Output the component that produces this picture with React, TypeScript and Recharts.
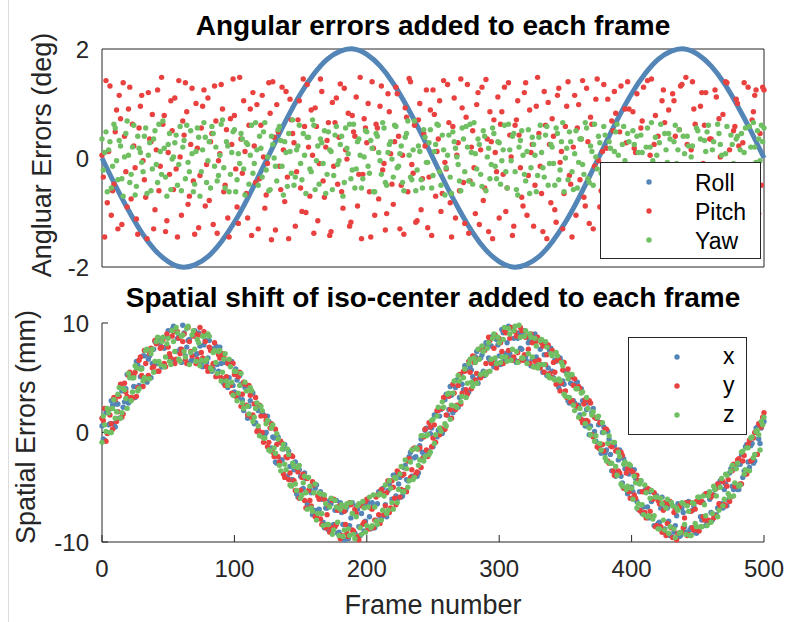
import { ComposedChart, Line, Scatter, XAxis, YAxis, ReferenceArea } from 'recharts'

const FONT = '"Liberation Sans", Arial, Helvetica, sans-serif'
const BLUE = '#5385b6'
const RED = '#e8413f'
const GREEN = '#70bf63'
const AXIS = '#262626'

// frames between samples
const ROLL_STEP = 10
const DOT_STEP = 1

const frameTicks = [0, 100, 200, 300, 400, 500]
const angTicks = [-2, 0, 2]
const spatialTicks = [-10, 0, 10]

// top panel (deg)
const roll = [
  0, -0.5, -0.96, -1.37, -1.69, -1.9, -2, -1.96, -1.81, -1.54,
  -1.18, -0.74, -0.25, 0.25, 0.74, 1.18, 1.54, 1.81, 1.96, 2,
  1.9, 1.69, 1.37, 0.96, 0.5, 0, -0.5, -0.96, -1.37, -1.69,
  -1.9, -2, -1.96, -1.81, -1.54, -1.18, -0.74, -0.25, 0.25, 0.74,
  1.18, 1.54, 1.81, 1.96, 2, 1.9, 1.69, 1.37, 0.96, 0.5, 0,
]

const pitch = [
  0.05, -0.35, -1.45, 1.42, -0.82, 0.12, 1.32, -1.05, -0.6, -0.48, 0.48, 0.88, -1.3, 1.15, 0.72, -1.22, 1.38, 0.4, -0.25, -0.9,
  0.9, 1.3, -0.75, 0.62, 0.22, -0.18, -1.12, -1.4, 0.55, 0.95, 1.15, -0.05, -0.4, -0.72, -1.48, 1.2, 0.35, 0.3, 0.8, -1.3,
  -0.95, 0.15, 1.25, -0.6, -0.15, 1.48, 0.62, 0.78, -1.35, -1.15, 0.1, -0.3, 1.05, 0.5, -0.58, 1.1, -0.2, -1.45, 1.42, 0.02,
  -1.05, 0.68, 0.42, 1.38, 0.85, -0.85, -0.7, 0.25, 1.28, -0.42, -1.4, 1.0, 0.18, -1.28, -0.32, 0.55, 0.95, 1.25, -0.88, -0.12,
  1.1, -0.78, 0.3, 0.45, -1.22, 1.32, 0.68, -1.38, -0.05, 0.08, 1.35, 0.9, -0.62, -0.5, 0.52, -1.1, -1.45, 0.72, 0.25, 1.45,
  0.78, -0.2, -0.9, -1.2, 1.48, 0.35, -0.28, 1.05, 0.12, -0.65, -1.1, 0.6, 0.9, -1.42, 1.2, 0.22, -0.45, 0.98, -1.3, -0.38,
  0.6, 1.15, 0.02, -0.92, -0.68, -0.1, 1.38, 0.82, -1.5, 1.4, 0.38, -1.32, 0.98, 0.48, -0.15, -0.58, 1.3, 0.15, -0.8, 1.22,
  -0.35, -1.48, 1.08, 0.7, 0.45, 0.28, -1.25, -0.25, 0.7, 1.05, -0.55, -0.98, 1.45, 0.58, -1.0, 1.35, 0.2, -0.7, 0.88, 0.05,
  -1.38, 0.92, 0.58, -1.15, -0.1, 1.45, 1.22, -0.42, -0.72, 0.2, 0.32, 0.65, -1.42, -1.35, 1.02, -0.15, 0.65, 1.1, -0.48, 0.38,
  1.36, -0.62, -0.92, 1.28, 0.15, -0.02, 0.82, -1.25, -1.18, 0.78, 0.48, 0.4, 1.12, -0.88, -0.3, 1.48, -1.48, -0.3, 0.72, 0.55,
  0.28, 1.0, -0.62, -1.45, 1.4, 0.18, -1.05, 0.62, 0.55, -0.75, 0.95, 1.32, -0.22, -0.1, -1.32, -1.02, 1.18, 0.85, 0.08, -0.48,
  -0.85, 0.3, 1.3, 1.18, 0.4, -1.3, -0.5, 0.05, -1.4, 0.92, 0.75, -0.62, 1.46, 1.4, -0.12, -0.28, 0.6, -1.18, -1.15, 0.7,
  1.0, -0.95, -0.38, 0.45, 0.22, 1.25, -1.28, -0.35, 0.88, -1.42, 1.25, 0.8, -0.7, 0.12, 0.35, 1.05, -0.98, -0.65, 1.42, -0.08,
  -0.2, 1.35, 0.65, -0.82, -1.45, 0.58, 1.1, -1.1, 0.05, 0.28, -0.6, 1.45, 0.92, -0.45, -1.2, 0.75, 1.35, -1.38, -0.42, 0.2,
  0.5, -0.18, -1.02, 0.98, 1.2, -1.22, 0.15, 1.3, -0.78, -0.55, 1.44, 0.35, -1.35, 0.85, 0.3, -1.48, 0.7, 0.1, -0.25, 1.12,
  -1.1, 0.62, 0.85, -0.3, 1.3, -0.98, -0.55, 1.38, 0.42, 0.02, -1.42, -1.25, 0.6, 0.7, 1.05, 0.42, -0.18, -0.72, -0.88, 1.2,
  1.38, -1.05, -0.32, 0.88, 0.1, 0.25, -1.25, -0.5, 0.95, 1.48, 0.45, -0.15, -0.65, -1.35, 1.22, 0.6, -1.48, 1.02, 0.25, -0.82,
  0.72, 0.4, -0.95, -1.18, 1.15, 1.28, -0.08, 0.12, -1.3, -0.65, 0.58, 0.95, 1.4, -0.32, -0.48, -1.45, 0.2, 1.15, -1.05, 0.55,
  0.98, -0.4, 0.35, 1.42, -0.72, -0.88, 1.28, 0.3, -1.2, 0.75, 0.62, -1.3, -0.15, 1.08, 1.45, -0.05, -0.9, -0.6, 0.12, 1.35,
  -0.4, 0.18, 1.08, -1.02, -1.38, 0.68, 0.5, 1.22, 0.82, -1.45, -0.6, 0.48, 1.32, -0.25, -1.12, 0.9, 0.28, 1.4, 0.9, -0.78,
  -1.45, 0.85, 0.18, 0.1, 1.18, -1.2, -0.35, 0.55, 0.68, 1.3, -0.98, -0.45, 1.42, -0.92, 0.05, 1.45, -1.25, 0.25, 0.78, -1.38,
  0.4, -0.12, -0.7, 1.05, 1.25, 0.65, -1.4, -1.28, 0.88, -0.38, -0.2, 1.18, 1.05, 0.4, -0.85, -0.7, 0.52, 1.32, 1.35, -1.0,
  -1.08, 1.48, 0.25, -0.55, -0.5, 0.15, 1.4, 0.9, 0.62, -1.4, -1.3, -0.22, 0.95, 1.2, -0.1, 0.6, 1.2, -0.95, -0.78, 0.35,
  0.35, -0.68, -1.45, 1.25, 1.12, -1.12, 0.72, 0.02, -0.3, 0.8, -0.95, 1.4, 1.38, -0.48, 0.15, -1.3, -1.18, 0.5, 0.58, 1.08,
  1.0, 0.22, -0.42, -0.88, 0.28, 1.38, -1.35, -0.15, 1.3, -1.22, -0.62, 0.7, 0.85, 1.15, 1.25, -0.4, -1.02, 0.45, -0.5, 1.3,
  1.25,
]

const yaw = [
  0.35, -0.22, 0.1, 0.48, -0.62, 0.15, 0.3, -0.55, -0.15, 0.62, 0.55, -0.05, -0.4, 0.32, 0.22, -0.38, -0.7, 0.02, 0.45, 0.68,
  0.05, -0.45, -0.3, 0.2, 0.6, -0.68, -0.52, 0.4, 0.18, 0.1, -0.08, -0.25, 0.4, 0.55, -0.65, 0.05, 0.28, -0.6, -0.2, 0.35,
  0.5, -0.12, -0.45, 0.62, 0.12, -0.3, 0.68, 0.18, -0.35, -0.7, 0.25, 0.45, -0.58, -0.02, 0.02, 0.28, 0.42, -0.5, -0.12, 0.58,
  -0.6, 0.2, 0.32, -0.38, 0.6, -0.08, -0.25, 0.5, 0.08, -0.62, -0.48, 0.12, 0.55, 0.38, -0.7, -0.25, 0.15, 0.65, 0.38, -0.45,
  -0.05, 0.3, -0.55, 0.58, 0.45, -0.15, 0.2, -0.42, -0.32, 0.05, 0.62, 0.7, -0.18, -0.55, 0.3, 0.22, -0.62, -0.3, 0.1, 0.48,
  0.52, -0.62, -0.4, 0.08, -0.1, 0.45, 0.35, -0.2, -0.68, 0.28, 0.25, -0.48, 0.05, 0.6, -0.28, -0.1, 0.65, 0.15, -0.5, 0.4,
  0.18, -0.35, 0.48, 0.65, -0.22, 0.02, -0.6, -0.58, 0.4, 0.25, 0.0, -0.15, -0.42, 0.52, 0.58, 0.32, -0.15, -0.68, 0.3, 0.1,
  -0.52, 0.45, 0.12, -0.28, 0.7, -0.5, -0.35, 0.15, 0.22, 0.6, -0.1, -0.4, 0.45, 0.05, -0.65, 0.38, 0.38, -0.2, -0.25, 0.7,
  0.6, -0.58, -0.05, 0.22, -0.48, 0.35, 0.28, -0.1, 0.5, -0.65, -0.3, 0.48, 0.15, 0.12, -0.58, -0.32, 0.42, 0.58, -0.12, -0.05,
  0.25, 0.4, -0.7, -0.45, 0.55, 0.18, 0.08, 0.62, -0.38, -0.22, 0.62, -0.55, -0.2, 0.3, 0.35, 0.05, -0.55, -0.38, 0.02, 0.5,
  0.48, -0.15, -0.28, 0.32, 0.18, -0.62, -0.62, 0.45, 0.4, 0.1, -0.05, -0.3, 0.65, 0.55, -0.45, -0.5, 0.1, 0.25, 0.3, -0.02,
  -0.35, 0.6, 0.58, -0.18, -0.15, 0.08, 0.22, -0.45, -0.6, 0.38, 0.45, 0.68, 0.05, -0.35, -0.4, 0.15, 0.68, -0.6, -0.22, 0.22,
  0.12, -0.4, -0.55, 0.52, 0.38, -0.08, -0.08, 0.28, 0.52, -0.55, -0.32, 0.12, 0.25, 0.62, 0.6, -0.25, -0.5, 0.42, 0.15, -0.68,
  -0.18, 0.05, 0.42, -0.35, -0.65, 0.48, 0.3, 0.18, 0.02, -0.12, -0.42, -0.6, 0.55, 0.35, -0.25, 0.58, 0.2, -0.42, 0.62, 0.1,
  -0.48, 0.65, 0.08, -0.2, 0.35, 0.25, -0.3, -0.52, 0.5, 0.4, -0.6, 0.02, 0.18, -0.38, -0.12, 0.55, 0.45, -0.15, -0.38, 0.3,
  0.28, -0.48, -0.05, 0.15, 0.6, -0.25, -0.55, 0.62, 0.15, -0.05, 0.4, 0.45, -0.25, -0.58, -0.68, 0.2, 0.32, 0.5, 0.05, -0.3,
  -0.42, 0.12, 0.52, -0.65, -0.18, 0.38, 0.25, 0.05, -0.62, -0.32, 0.38, 0.6, 0.1, -0.18, -0.35, 0.42, 0.58, -0.5, -0.1, 0.25,
  0.2, -0.1, -0.5, 0.55, 0.45, -0.4, -0.22, 0.3, 0.65, -0.62, 0.0, 0.18, -0.4, 0.48, 0.3, -0.25, -0.58, 0.08, 0.5, -0.55,
  -0.08, 0.35, 0.35, -0.12, -0.3, 0.65, 0.55, -0.38, -0.45, 0.22, 0.12, -0.5, 0.62, 0.02, -0.2, 0.4, 0.28, -0.28, -0.65, 0.58,
  0.42, -0.2, -0.12, 0.3, 0.18, -0.58, -0.52, 0.12, 0.48, 0.62, 0.05, -0.42, -0.35, 0.25, 0.58, -0.05, -0.15, 0.45, 0.3, -0.65,
  -0.6, 0.5, 0.25, -0.3, 0.4, 0.1, -0.28, 0.42, 0.1, -0.52, -0.48, 0.2, 0.55, -0.15, 0.2, 0.65, -0.05, -0.4, 0.38, 0.05,
  -0.38, 0.28, 0.62, -0.6, -0.22, 0.45, 0.15, -0.08, 0.45, 0.35, -0.55, -0.45, 0.3, 0.6, -0.1, 0.15, 0.52, -0.25, -0.3, 0.4,
  0.08, -0.55, 0.4, 0.22, -0.6, 0.02, 0.22, -0.35, -0.18, 0.55, 0.5, -0.12, 0.35, -0.6, -0.45, 0.32, 0.12, 0.48, 0.6, -0.2,
  -0.25, 0.15, 0.3, -0.48, -0.52, 0.62, 0.45, 0.25, 0.05, -0.3, -0.35, 0.08, 0.58, -0.52, -0.15, 0.42, 0.25, -0.1, -0.62, 0.35,
  0.4, -0.62, 0.15, 0.45, -0.3, 0.1, 0.55, -0.25, -0.45, 0.58, 0.2, -0.4, 0.65, 0.2, -0.08, 0.5, 0.35, -0.05, 0.6, 0.3,
  0.55,
]

// bottom panel (mm)
const spatialX = [
  0.6, -0.6, -0.7, 1.8, 2.1, 0.7, 0.8, 2.9, 2.5, 0.8, 0.5, 2.6, 2.6, 1.3, 4.2, 3.8, 2.3, 2.8, 4.0, 5.3,
  2.7, 2.9, 5.3, 5.0, 4.2, 3.2, 6.5, 6.2, 4.3, 5.1, 5.9, 7.0, 7.0, 5.0, 4.6, 6.7, 7.0, 5.0, 6.3, 7.6,
  8.3, 6.3, 6.3, 8.6, 8.1, 6.0, 6.0, 7.7, 7.8, 8.8, 9.3, 6.9, 6.7, 9.4, 9.7, 6.6, 7.4, 8.6, 8.8, 7.6,
  6.4, 9.8, 9.1, 7.0, 7.8, 8.4, 8.5, 6.5, 6.7, 9.0, 9.3, 7.1, 7.2, 9.1, 7.9, 6.4, 6.0, 8.0, 8.4, 6.4,
  6.8, 8.4, 7.7, 5.6, 5.8, 7.6, 7.9, 6.2, 5.6, 7.8, 6.3, 4.9, 4.5, 6.4, 6.5, 4.1, 5.0, 6.2, 6.5, 4.3,
  3.7, 5.8, 4.8, 3.2, 5.2, 4.4, 3.0, 2.0, 4.1, 4.3, 1.3, 2.4, 2.9, 3.8, 3.6, 0.8, 0.9, 2.3, 2.0, -0.2,
  -0.3, 1.8, 1.6, -0.2, 0.0, 1.5, 1.0, -1.5, -1.4, -0.4, -0.5, -2.7, -2.8, -0.4, -0.9, -2.5, -2.5, -1.5, -1.1, -4.1,
  -4.0, -1.7, -3.1, -4.3, -4.3, -3.4, -2.7, -5.6, -5.9, -3.4, -4.0, -5.2, -5.1, -3.7, -4.2, -6.5, -6.8, -5.2, -5.5, -7.5,
  -7.1, -5.1, -4.8, -7.1, -7.0, -5.4, -6.1, -8.2, -8.7, -6.9, -6.9, -8.9, -6.2, -6.5, -8.5, -8.4, -7.1, -6.2, -9.2, -9.1,
  -6.4, -7.3, -8.4, -9.8, -7.1, -6.8, -9.7, -8.5, -7.8, -6.4, -9.1, -9.2, -6.7, -7.0, -8.6, -9.4, -7.4, -6.5, -9.0, -8.1,
  -6.5, -6.4, -7.7, -8.8, -6.4, -6.7, -8.7, -8.0, -6.5, -5.4, -7.6, -7.8, -5.1, -5.6, -6.6, -7.7, -5.3, -4.7, -7.0, -6.1,
  -3.9, -3.9, -5.8, -6.1, -4.7, -4.1, -5.9, -5.8, -3.2, -3.0, -4.3, -4.4, -2.2, -1.8, -4.0, -4.1, -2.3, -2.2, -4.0, -3.7,
  -1.2, -0.6, -1.8, -2.2, 0.2, 0.4, -1.8, -1.7, -0.1, 0.4, -1.3, 1.6, 1.6, -0.4, 0.2, 1.5, 2.1, -0.1, 0.2, 3.0,
  3.5, 1.6, 2.1, 4.2, 3.4, 1.8, 2.0, 4.1, 4.8, 2.3, 3.2, 5.3, 4.4, 3.9, 6.1, 5.7, 3.7, 3.7, 6.0, 5.7,
  5.1, 4.7, 6.9, 7.4, 4.5, 5.0, 6.8, 7.1, 5.6, 5.2, 8.2, 8.0, 6.8, 6.6, 7.9, 8.8, 6.0, 6.4, 8.5, 8.0,
  7.0, 6.2, 9.4, 9.1, 6.7, 7.2, 8.2, 9.7, 7.2, 6.8, 9.5, 8.6, 6.6, 6.4, 8.6, 9.1, 7.7, 7.6, 9.1, 9.3,
  6.9, 6.5, 8.2, 8.5, 6.1, 6.7, 8.4, 9.0, 6.9, 6.1, 8.5, 7.6, 6.2, 5.5, 7.1, 8.0, 5.2, 5.9, 7.5, 7.7,
  5.6, 5.0, 6.6, 6.5, 4.4, 4.1, 6.8, 6.5, 4.7, 4.4, 5.6, 5.5, 2.9, 2.7, 4.5, 5.1, 2.9, 2.7, 4.5, 4.6,
  2.5, 1.6, 4.0, 2.9, 1.1, 0.6, 2.1, 2.7, -0.2, 0.6, 1.8, 2.2, 0.1, -0.8, 1.3, 0.7, -1.5, -1.9, 0.0, 0.5,
  -1.9, -1.6, 0.1, -0.6, -2.0, -3.5, -1.2, -1.2, -4.0, -3.6, -2.5, -1.6, -4.0, -4.6, -2.4, -3.3, -5.2, -5.6, -3.8, -3.2,
  -5.0, -5.4, -3.4, -4.2, -6.3, -7.0, -5.4, -4.4, -7.4, -6.8, -5.3, -5.1, -6.8, -7.8, -5.4, -6.3, -7.7, -8.5, -5.7, -5.8,
  -8.3, -8.2, -6.9, -5.9, -9.1, -8.8, -6.7, -6.9, -8.1, -9.4, -6.4, -6.7, -9.1, -8.5, -7.6, -6.5, -9.5, -9.4, -6.9, -7.3,
  -8.6, -9.1, -6.4, -6.3, -8.9, -8.7, -7.1, -6.7, -9.1, -9.2, -6.3, -6.2, -7.7, -8.0, -6.4, -5.7, -8.5, -8.3, -5.5, -6.1,
  -7.3, -8.0, -5.7, -5.2, -7.5, -6.9, -4.6, -4.4, -6.5, -6.9, -5.2, -4.7, -6.7, -6.2, -3.7, -3.3, -4.9, -5.2, -3.3, -3.0,
  -5.2, -5.2, -2.9, -2.0, -4.1, -3.5, -1.3, -1.1, -2.7, -3.2, -1.2, -1.0, -2.8, -2.6, 0.4, 0.5, -0.6, -1.0, 0.4, 0.8,
  1.0,
]

const spatialY = [
  1.3, 1.1, 2.2, -0.8, -0.1, 2.1, 1.6, 0.8, 0.3, 3.2, 3.0, 1.0, 1.9, 3.3, 4.4, 1.4, 1.7, 4.5, 3.7, 3.3,
  5.2, 5.5, 3.2, 3.1, 5.2, 5.5, 3.3, 4.1, 6.6, 6.9, 5.2, 4.2, 7.5, 6.3, 4.9, 5.2, 7.2, 7.7, 5.9, 6.0,
  8.4, 8.1, 5.6, 5.6, 7.7, 7.8, 8.5, 6.3, 6.0, 9.0, 7.8, 7.2, 6.8, 8.8, 9.2, 6.3, 6.7, 9.2, 8.6, 7.2,
  7.6, 8.3, 9.0, 6.7, 6.3, 9.6, 8.3, 7.4, 7.0, 8.8, 9.1, 6.3, 6.7, 8.9, 9.6, 7.3, 6.8, 9.2, 8.3, 6.0,
  5.6, 7.8, 7.5, 6.0, 6.3, 8.2, 5.1, 5.2, 7.1, 6.8, 5.0, 7.2, 6.9, 4.3, 5.1, 6.3, 6.6, 4.3, 3.6, 6.3,
  5.3, 3.3, 3.5, 5.1, 5.5, 2.4, 3.5, 4.6, 4.4, 2.5, 1.6, 4.3, 3.4, 1.4, 1.6, 2.6, 3.2, 0.1, 0.3, 2.5,
  1.5, 0.0, -0.9, 1.5, 1.1, -1.3, -0.9, 0.4, 0.8, -1.8, -2.2, 0.3, -1.1, -2.2, -2.7, -0.8, -1.0, -3.8, -4.1, -2.2,
  -2.3, -4.3, -3.7, -2.1, -2.2, -4.4, -5.3, -3.2, -3.6, -6.0, -5.3, -4.1, -3.8, -6.2, -6.9, -4.2, -5.3, -6.2, -6.7, -4.5,
  -4.8, -7.7, -7.6, -5.8, -6.1, -7.9, -8.4, -5.7, -6.1, -8.7, -7.5, -6.7, -9.1, -8.7, -6.2, -6.1, -8.6, -8.4, -7.1, -6.7,
  -9.7, -9.4, -6.7, -7.2, -8.4, -9.2, -9.5, -6.4, -6.6, -8.9, -9.0, -7.0, -7.4, -9.5, -9.8, -6.6, -6.7, -8.4, -8.2, -6.3,
  -6.1, -8.8, -8.8, -6.9, -7.0, -8.7, -8.0, -5.9, -5.7, -7.5, -8.3, -5.2, -5.6, -7.5, -6.7, -5.5, -4.4, -7.3, -6.9, -4.4,
  -5.0, -6.0, -6.6, -3.5, -3.7, -5.9, -5.2, -3.9, -3.8, -5.3, -5.4, -2.6, -2.4, -4.1, -3.4, -1.5, -1.4, -3.8, -3.6, -1.5,
  -1.4, -3.2, -2.4, -0.4, 0.3, -1.6, -2.2, 0.9, 0.5, -1.3, -0.5, 0.7, -0.9, 2.0, 2.0, -0.2, 0.4, 2.2, 3.2, 0.3,
  1.6, 3.4, 3.3, 2.1, 1.3, 4.4, 3.6, 2.1, 2.5, 4.3, 5.3, 2.6, 3.6, 5.6, 5.6, 3.9, 3.5, 6.5, 5.5, 4.0,
  7.0, 6.4, 4.8, 5.4, 6.7, 7.6, 5.0, 5.2, 7.7, 7.5, 6.3, 5.5, 8.7, 8.4, 6.3, 6.5, 7.7, 8.9, 5.9, 6.3,
  8.6, 8.2, 7.4, 6.3, 9.3, 9.1, 6.8, 7.5, 8.6, 9.6, 6.6, 6.9, 9.2, 8.8, 7.3, 6.5, 9.6, 9.3, 6.6, 7.1,
  8.7, 8.8, 7.6, 6.3, 9.0, 8.2, 6.0, 6.5, 8.3, 8.7, 6.6, 5.9, 8.2, 7.9, 5.5, 6.2, 7.1, 8.0, 5.4, 5.1,
  7.5, 6.4, 5.5, 4.4, 6.6, 6.7, 3.8, 4.5, 5.7, 6.4, 3.8, 3.2, 5.8, 5.0, 2.8, 2.9, 4.3, 4.9, 2.5, 2.3,
  4.2, 4.0, 1.2, 0.9, 2.6, 3.0, 1.1, 1.0, 2.9, 2.7, -0.2, -0.4, 1.4, 1.3, -1.3, -1.4, 0.9, 0.9, -1.1, -1.7,
  0.3, 0.3, -2.6, -2.8, -1.2, -1.3, -3.5, -3.9, -1.7, -1.6, -3.5, -3.7, -1.8, -2.1, -5.1, -5.1, -3.7, -3.3, -5.4, -6.0,
  -3.5, -3.6, -5.7, -6.0, -3.9, -4.4, -7.1, -7.2, -5.4, -5.4, -7.3, -7.8, -5.1, -5.2, -7.2, -7.7, -6.1, -5.5, -8.6, -8.5,
  -6.2, -6.5, -8.6, -9.1, -7.1, -6.4, -9.4, -8.3, -6.5, -6.3, -8.7, -9.6, -7.3, -7.0, -9.8, -9.2, -6.8, -6.6, -9.1, -8.7,
  -7.8, -6.4, -9.4, -9.3, -6.4, -7.2, -8.7, -8.9, -7.0, -6.3, -8.9, -9.0, -6.4, -6.3, -7.7, -8.0, -5.6, -5.6, -8.0, -8.2,
  -5.9, -5.7, -7.8, -7.6, -5.1, -4.7, -6.5, -6.7, -4.3, -4.5, -6.6, -6.7, -4.9, -4.3, -6.3, -5.9, -3.5, -2.9, -4.9, -4.9,
  -2.5, -2.4, -4.7, -4.7, -2.6, -2.1, -3.8, -3.8, -1.1, -0.7, -2.6, -2.5, -0.5, 0.0, -2.0, -2.0, 0.8, 0.7, 0.5, 1.4,
  1.8,
]

const spatialZ = [
  -0.9, 1.5, 0.7, 0.1, 2.2, 1.8, 0.0, 0.0, 2.2, 3.0, 1.3, 1.9, 3.5, 4.1, 1.3, 1.8, 4.0, 3.9, 3.1, 2.2,
  5.4, 5.0, 2.9, 3.7, 5.0, 6.1, 5.9, 3.8, 4.0, 5.8, 5.8, 4.7, 5.0, 7.5, 7.6, 4.9, 4.9, 7.2, 7.6, 5.5,
  6.5, 8.3, 8.7, 6.5, 6.2, 8.3, 8.7, 6.0, 6.9, 8.1, 8.6, 6.5, 6.2, 9.3, 8.3, 7.4, 9.6, 9.1, 6.7, 6.5,
  8.8, 8.9, 7.4, 6.9, 9.5, 9.7, 6.2, 7.3, 8.9, 9.3, 7.6, 6.5, 8.5, 8.2, 6.1, 6.6, 8.8, 8.8, 6.5, 6.7,
  9.0, 8.8, 5.9, 5.7, 7.3, 7.5, 6.4, 5.4, 7.4, 7.5, 4.7, 5.5, 6.7, 7.2, 4.7, 4.3, 6.7, 6.0, 4.6, 3.4,
  5.6, 5.6, 2.9, 3.6, 4.3, 5.4, 2.7, 2.2, 4.6, 3.8, 2.4, 1.7, 4.1, 3.8, 1.0, 1.4, 2.2, 2.7, 0.6, -0.3,
  2.4, 2.0, -0.5, -0.5, 0.8, 1.1, -1.6, -1.7, 0.4, 0.7, -1.4, -1.9, -0.1, -0.6, -3.0, -3.5, -1.5, -1.1, -2.9, -3.4,
  -1.5, -2.0, -4.8, -4.9, -2.8, -3.1, -4.7, -5.3, -3.2, -3.0, -6.0, -5.7, -4.6, -4.0, -5.5, -7.0, -4.1, -4.9, -6.9, -7.2,
  -5.5, -4.7, -8.0, -7.4, -5.5, -5.6, -7.4, -8.5, -5.7, -6.5, -8.4, -8.4, -6.8, -6.0, -9.3, -8.9, -6.2, -6.8, -8.2, -9.4,
  -7.0, -6.6, -9.5, -8.9, -6.8, -6.5, -8.8, -9.4, -6.4, -7.4, -9.3, -9.7, -7.7, -6.7, -6.5, -8.7, -9.3, -6.3, -6.9, -9.1,
  -8.5, -6.8, -5.9, -8.7, -8.5, -5.7, -6.8, -8.1, -8.4, -5.7, -5.6, -8.0, -7.1, -5.8, -4.8, -7.4, -7.1, -4.4, -5.1, -6.4,
  -7.0, -4.1, -4.2, -6.4, -5.2, -3.8, -3.1, -5.4, -5.4, -2.5, -3.3, -5.0, -4.4, -2.7, -1.6, -4.3, -4.1, -1.4, -1.5, -3.0,
  -2.5, -0.3, -0.3, -2.6, -2.2, -0.3, -0.2, -2.0, -1.8, 1.1, 1.2, -1.0, -0.2, 1.5, 2.3, 0.4, 0.1, 2.8, 2.3, 0.8,
  0.6, 3.5, 3.6, 1.2, 2.5, 3.6, 4.7, 2.4, 2.3, 5.2, 4.7, 2.8, 3.3, 5.0, 5.8, 3.2, 4.5, 6.3, 6.7, 4.6,
  4.2, 6.8, 6.4, 4.5, 7.6, 6.7, 5.3, 7.9, 7.4, 5.5, 5.3, 7.7, 8.2, 5.6, 6.7, 8.6, 9.0, 6.8, 6.3, 8.7,
  8.2, 6.4, 6.9, 8.5, 9.6, 6.9, 6.5, 9.5, 9.0, 6.6, 7.6, 9.3, 9.7, 7.4, 6.4, 9.8, 8.7, 6.8, 6.8, 8.8,
  9.3, 6.3, 7.2, 9.0, 8.7, 6.9, 6.0, 8.6, 7.9, 5.9, 6.2, 8.4, 8.5, 6.2, 6.2, 8.3, 7.8, 5.2, 5.0, 7.2,
  7.0, 4.9, 4.8, 7.3, 7.0, 4.9, 4.7, 6.4, 6.1, 3.5, 3.3, 5.3, 4.9, 3.2, 5.3, 5.3, 2.5, 2.0, 4.0, 4.0,
  1.4, 2.2, 3.6, 3.7, 1.7, 0.8, 3.2, 2.2, 0.4, -0.2, 1.6, 1.9, -0.8, -0.3, 1.4, 1.5, -1.0, -1.6, 0.9, 0.0,
  -2.3, -2.6, -1.0, -0.3, -2.8, -2.8, -0.9, -0.9, -3.1, -3.9, -1.8, -2.2, -4.7, -4.9, -2.9, -2.7, -5.2, -4.9, -2.9, -3.0,
  -5.1, -6.1, -4.0, -4.6, -6.9, -6.5, -4.7, -4.4, -6.6, -7.5, -4.8, -5.5, -7.7, -7.6, -6.0, -5.3, -7.9, -7.6, -5.9, -5.9,
  -8.8, -8.8, -6.0, -6.5, -8.0, -8.9, -6.9, -6.1, -9.2, -8.6, -6.4, -6.7, -8.8, -9.6, -6.9, -7.1, -9.2, -9.1, -6.4, -6.5,
  -8.4, -9.3, -6.7, -7.2, -9.4, -9.4, -6.4, -6.5, -8.3, -8.6, -5.9, -5.9, -8.6, -8.6, -5.8, -6.6, -7.6, -8.5, -5.8, -5.4,
  -8.2, -7.4, -4.9, -5.2, -5.8, -7.7, -7.1, -5.0, -4.2, -6.7, -6.1, -3.8, -3.9, -5.6, -5.9, -3.5, -3.0, -5.8, -4.6, -3.3,
  -2.8, -4.9, -4.8, -1.8, -1.7, -3.8, -3.4, -1.4, -1.4, -3.5, -0.5, -0.4, -2.3, -2.0, 0.1, 0.2, -0.2, -1.6, 1.0, 0.7,
  1.4,
]

const toRows = (vals: number[], key: string, step: number) =>
  vals.map((v, i) => ({ frame: i * step, [key]: v }))

const rollRows = toRows(roll, 'roll', ROLL_STEP)
const pitchRows = toRows(pitch, 'pitch', DOT_STEP)
const yawRows = toRows(yaw, 'yaw', DOT_STEP)
const xRows = toRows(spatialX, 'x', DOT_STEP)
const yRows = toRows(spatialY, 'y', DOT_STEP)
const zRows = toRows(spatialZ, 'z', DOT_STEP)

const dot = (color: string) => (p: any) => <circle cx={p.cx} cy={p.cy} r={2.7} fill={color} />

const tickStyle = { fontSize: 24, fill: AXIS, fontFamily: FONT }

export default function App() {
  return (
    <div
      style={{
        position: 'absolute',
        left: 0,
        top: 0,
        width: 787,
        height: 622,
        background: '#fff',
        overflow: 'hidden',
      }}
    >
      <div style={{ position: 'absolute', left: 0, top: 0 }}>
        <ComposedChart width={787} height={290} margin={{ top: 49, right: 23, bottom: 23, left: 0 }}>
          <XAxis type="number" dataKey="frame" domain={[0, 500]} ticks={frameTicks} hide />
          <YAxis
            type="number"
            domain={[-2, 2]}
            ticks={angTicks}
            width={102}
            axisLine={false}
            tickLine={false}
            tickMargin={7}
            tick={tickStyle}
          />
          <ReferenceArea
            x1={0}
            x2={500}
            y1={-2}
            y2={2}
            fill="none"
            stroke={AXIS}
            strokeWidth={1}
            ifOverflow="visible"
          />
          <Line
            data={rollRows}
            dataKey="roll"
            type="natural"
            stroke={BLUE}
            strokeWidth={5}
            dot={false}
            isAnimationActive={false}
          />
          <Scatter data={pitchRows} dataKey="pitch" shape={dot(RED)} isAnimationActive={false} />
          <Scatter data={yawRows} dataKey="yaw" shape={dot(GREEN)} isAnimationActive={false} />
        </ComposedChart>
      </div>

      <div style={{ position: 'absolute', left: 0, top: 290 }}>
        <ComposedChart width={787} height={332} margin={{ top: 33, right: 23, bottom: 0, left: 0 }}>
          <XAxis
            type="number"
            dataKey="frame"
            domain={[0, 500]}
            ticks={frameTicks}
            height={80}
            tickSize={-7}
            tickMargin={25}
            axisLine={{ stroke: AXIS }}
            tickLine={{ stroke: AXIS }}
            tick={tickStyle}
          />
          <YAxis
            type="number"
            domain={[-10, 10]}
            ticks={spatialTicks}
            width={102}
            tickSize={-6}
            tickMargin={19}
            axisLine={{ stroke: AXIS }}
            tickLine={{ stroke: AXIS }}
            tick={tickStyle}
          />
          <Scatter data={xRows} dataKey="x" shape={dot(BLUE)} isAnimationActive={false} />
          <Scatter data={yRows} dataKey="y" shape={dot(RED)} isAnimationActive={false} />
          <Scatter data={zRows} dataKey="z" shape={dot(GREEN)} isAnimationActive={false} />
        </ComposedChart>
      </div>

      <svg
        width={787}
        height={622}
        style={{ position: 'absolute', left: 0, top: 0, pointerEvents: 'none' }}
        fontFamily={FONT}
      >
        <line x1={8.5} y1={0} x2={8.5} y2={622} stroke="#dcdcdc" strokeWidth={1} />

        <text x={433} y={35} textAnchor="middle" fontSize={28} fontWeight="bold" fill="#000">
          Angular errors added to each frame
        </text>
        <text x={433} y={307} textAnchor="middle" fontSize={28} fontWeight="bold" fill="#000">
          Spatial shift of iso-center added to each frame
        </text>
        <text
          x={0}
          y={0}
          transform="translate(51 155) rotate(-90)"
          textAnchor="middle"
          fontSize={27}
          fill={AXIS}
        >
          Angluar Errors (deg)
        </text>
        <text
          x={0}
          y={0}
          transform="translate(35 427) rotate(-90)"
          textAnchor="middle"
          fontSize={27}
          fill={AXIS}
        >
          Spatial Errors (mm)
        </text>
        <text x={433} y={614} textAnchor="middle" fontSize={27} fill={AXIS}>
          Frame number
        </text>

        <rect x={600.5} y={162.5} width={160} height={96} fill="#fff" stroke={AXIS} />
        <circle cx={649} cy={182} r={2.7} fill={BLUE} />
        <circle cx={649} cy={211} r={2.7} fill={RED} />
        <circle cx={649} cy={240} r={2.7} fill={GREEN} />
        <text x={695} y={191} fontSize={23} fill="#000">Roll</text>
        <text x={695} y={220} fontSize={23} fill="#000">Pitch</text>
        <text x={695} y={249} fontSize={23} fill="#000">Yaw</text>

        <rect x={628.5} y={337.5} width={118} height={97} fill="#fff" stroke={AXIS} />
        <circle cx={677} cy={357} r={2.7} fill={BLUE} />
        <circle cx={677} cy={386} r={2.7} fill={RED} />
        <circle cx={677} cy={415} r={2.7} fill={GREEN} />
        <text x={723} y={364} fontSize={23} fill="#000">x</text>
        <text x={723} y={393} fontSize={23} fill="#000">y</text>
        <text x={723} y={422} fontSize={23} fill="#000">z</text>
      </svg>
    </div>
  )
}
